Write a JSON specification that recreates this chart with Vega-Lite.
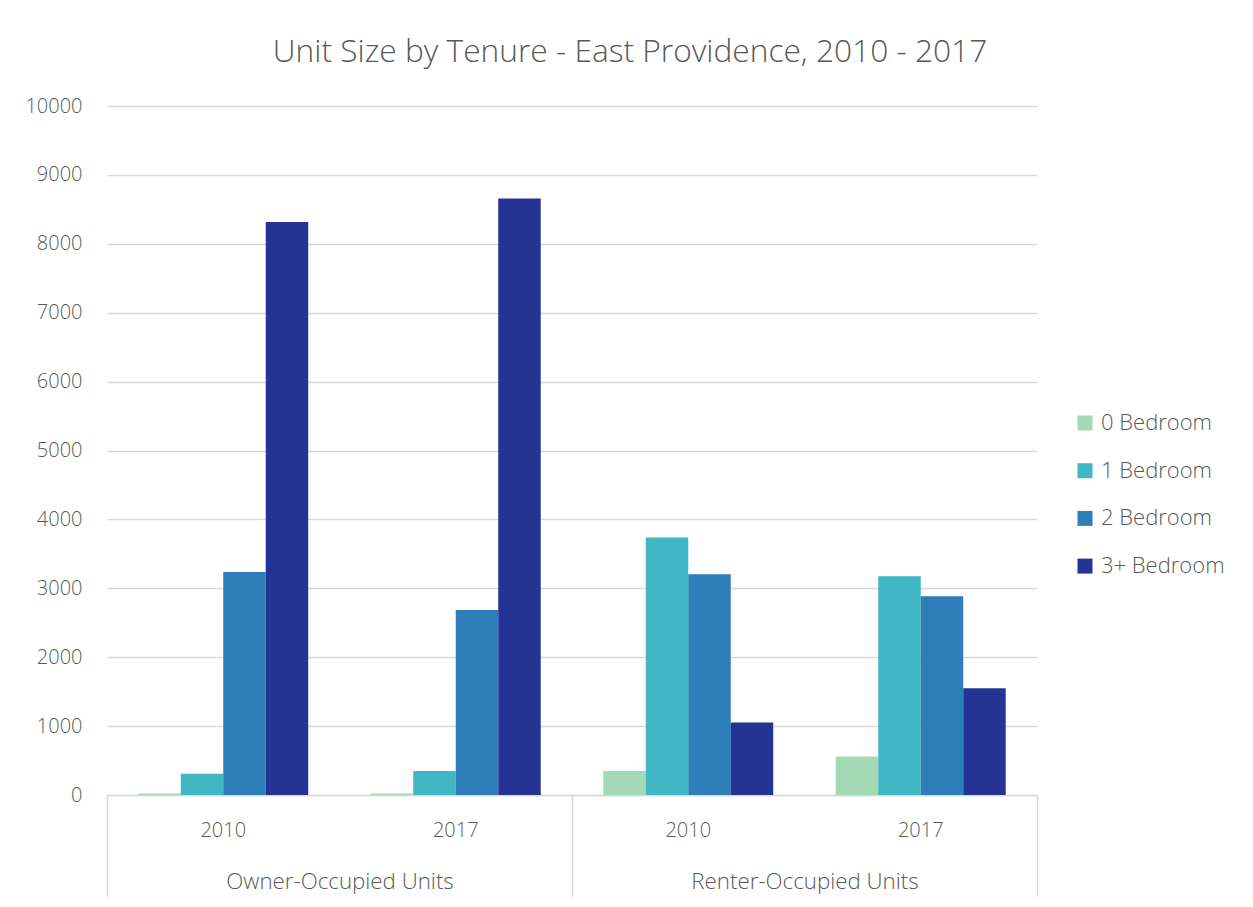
{
  "$schema": "https://vega.github.io/schema/vega-lite/v6.json",
  "width": 930,
  "height": 689,
  "autosize": {"type": "none"},
  "padding": {"left": 107, "top": 106, "right": 216, "bottom": 112},
  "background": "white",
  "title": {
    "text": "Unit Size by Tenure - East Providence, 2010 - 2017",
    "fontSize": 31.7,
    "font": "Open Sans",
    "fontWeight": 300,
    "color": "#595959",
    "anchor": "middle",
    "frame": "group",
    "dx": 58,
    "offset": 27
  },
  "config": {"view": {"stroke": null}, "font": "Open Sans"},
  "data": {
    "values": [
      {"key": "A2010", "group": "Owner-Occupied Units", "bedroom": "0 Bedroom", "units": 20},
      {"key": "A2010", "group": "Owner-Occupied Units", "bedroom": "1 Bedroom", "units": 308},
      {"key": "A2010", "group": "Owner-Occupied Units", "bedroom": "2 Bedroom", "units": 3237},
      {"key": "A2010", "group": "Owner-Occupied Units", "bedroom": "3+ Bedroom", "units": 8317},
      {"key": "A2017", "group": "Owner-Occupied Units", "bedroom": "0 Bedroom", "units": 20},
      {"key": "A2017", "group": "Owner-Occupied Units", "bedroom": "1 Bedroom", "units": 347},
      {"key": "A2017", "group": "Owner-Occupied Units", "bedroom": "2 Bedroom", "units": 2686},
      {"key": "A2017", "group": "Owner-Occupied Units", "bedroom": "3+ Bedroom", "units": 8659},
      {"key": "B2010", "group": "Renter-Occupied Units", "bedroom": "0 Bedroom", "units": 349},
      {"key": "B2010", "group": "Renter-Occupied Units", "bedroom": "1 Bedroom", "units": 3736},
      {"key": "B2010", "group": "Renter-Occupied Units", "bedroom": "2 Bedroom", "units": 3204},
      {"key": "B2010", "group": "Renter-Occupied Units", "bedroom": "3+ Bedroom", "units": 1054},
      {"key": "B2017", "group": "Renter-Occupied Units", "bedroom": "0 Bedroom", "units": 560},
      {"key": "B2017", "group": "Renter-Occupied Units", "bedroom": "1 Bedroom", "units": 3175},
      {"key": "B2017", "group": "Renter-Occupied Units", "bedroom": "2 Bedroom", "units": 2884},
      {"key": "B2017", "group": "Renter-Occupied Units", "bedroom": "3+ Bedroom", "units": 1548}
    ]
  },
  "layer": [
    {
      "mark": {"type": "bar"},
      "encoding": {
        "x": {
          "field": "key",
          "type": "nominal",
          "scale": {"paddingInner": 0.269, "paddingOuter": 0.1345},
          "axis": {
            "title": null,
            "orient": "bottom",
            "labelExpr": "substring(datum.label, 1)",
            "labelAngle": 0,
            "domain": false,
            "ticks": false,
            "grid": false,
            "labelFontSize": 20,
            "labelFont": "Open Sans",
            "labelFontWeight": 300,
            "labelColor": "#595959",
            "labelPadding": 25
          }
        },
        "xOffset": {"field": "bedroom", "type": "nominal", "scale": {"paddingInner": 0, "paddingOuter": 0}},
        "y": {
          "field": "units",
          "type": "quantitative",
          "scale": {"domain": [0, 10000], "nice": false},
          "axis": {
            "title": null,
            "values": [0, 1000, 2000, 3000, 4000, 5000, 6000, 7000, 8000, 9000, 10000],
            "format": "d",
            "domain": false,
            "ticks": false,
            "grid": true,
            "gridColor": "#d9d9d9",
            "gridWidth": 1.3,
            "labelFontSize": 20,
            "labelFont": "Open Sans",
            "labelFontWeight": 300,
            "labelColor": "#595959",
            "labelPadding": 25
          }
        },
        "color": {
          "field": "bedroom",
          "type": "nominal",
          "scale": {"range": ["#a3d9b4", "#41b6c4", "#2c7fb8", "#253494"]},
          "legend": {
            "title": null,
            "orient": "none",
            "legendX": 967,
            "legendY": 306,
            "symbolType": "square",
            "symbolSize": 225,
            "symbolStrokeWidth": 0,
            "labelFontSize": 22,
            "labelFont": "Open Sans",
            "labelFontWeight": 300,
            "labelColor": "#595959",
            "labelOffset": 5,
            "rowPadding": 25.7
          }
        }
      }
    },
    {
      "mark": {"type": "bar", "opacity": 0},
      "encoding": {
        "x": {
          "field": "group",
          "type": "nominal",
          "scale": {"paddingInner": 0, "paddingOuter": 0},
          "axis": {
            "title": null,
            "orient": "bottom",
            "tickBand": "extent",
            "labelAngle": 0,
            "labelLimit": 0,
            "grid": false,
            "domain": true,
            "domainColor": "#d9d9d9",
            "domainWidth": 1.5,
            "ticks": true,
            "tickColor": "#d9d9d9",
            "tickWidth": 1.5,
            "tickSize": 101,
            "labelPadding": -26,
            "labelFontSize": 22.3,
            "labelFont": "Open Sans",
            "labelFontWeight": 300,
            "labelColor": "#595959"
          }
        },
        "y": {"field": "units", "type": "quantitative", "stack": null}
      }
    }
  ],
  "resolve": {"scale": {"x": "independent"}}
}
